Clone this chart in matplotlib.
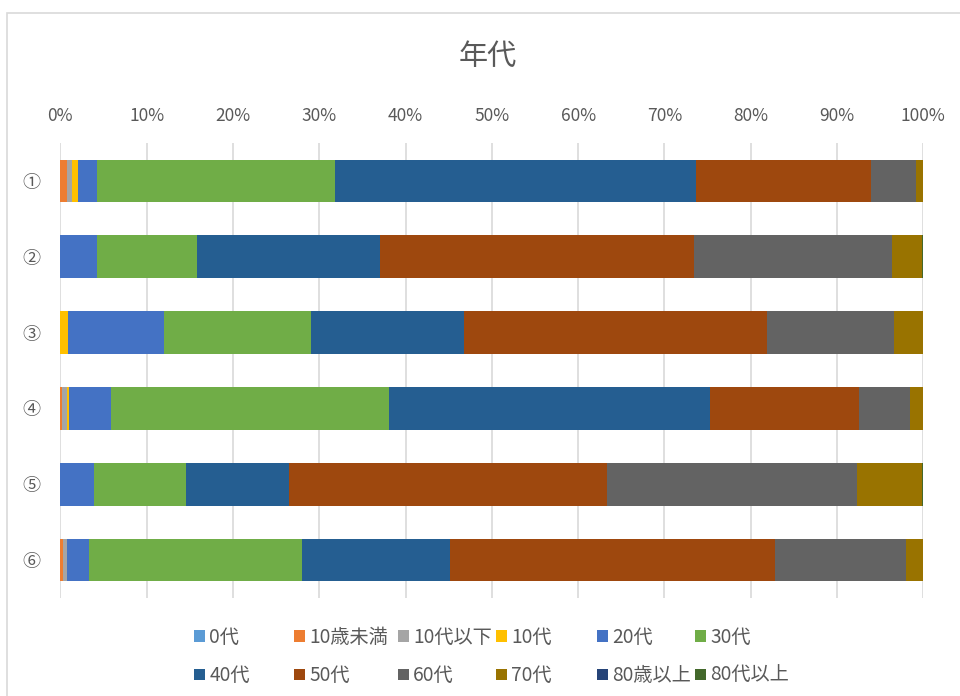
import matplotlib
matplotlib.use("Agg")
import matplotlib.pyplot as plt
from matplotlib.patches import Rectangle, Patch
import numpy as np

plt.rcParams['font.family'] = ['Noto Sans CJK JP', 'DejaVu Sans']

# series (legend order)
series = ['0代', '10歳未満', '10代以下', '10代', '20代', '30代',
          '40代', '50代', '60代', '70代', '80歳以上', '80代以上']
colors = ['#5B9BD5', '#ED7D31', '#A5A5A5', '#FFC000', '#4472C4', '#70AD47',
          '#255E91', '#9E480E', '#636363', '#997300', '#264478', '#43682B']

categories = ['①', '②', '③', '④', '⑤', '⑥']

# shares (%), one list per category, in series order
row1 = [0, 0.8, 0.6, 0.7, 2.1, 27.6, 41.9, 20.2, 5.3, 0.8, 0, 0]
row2 = [0, 0, 0, 0, 4.2, 11.6, 21.3, 36.3, 23.0, 3.5, 0, 0.1]
row3 = [0, 0, 0, 0.9, 11.1, 17.0, 17.8, 35.1, 14.7, 3.4, 0, 0]
row4 = [0, 0.2, 0.6, 0.2, 4.9, 32.2, 37.2, 17.2, 6.0, 1.5, 0, 0]
row5 = [0, 0, 0, 0, 3.9, 10.7, 11.9, 36.8, 29.0, 7.5, 0, 0.2]
row6 = [0, 0.3, 0.5, 0, 2.5, 24.7, 17.1, 37.7, 15.2, 2.0, 0, 0]

vals = np.array([row1, row2, row3, row4, row5, row6], dtype=float)
vals = vals / vals.sum(axis=1, keepdims=True)   # 100% stacked

txt = '#595959'
W, H = 960, 696
fig = plt.figure(figsize=(W / 100, H / 100), dpi=100)

# chart area border
fig.patches.append(Rectangle((7 / W, -0.1), 1.2, 1 - 13 / H + 0.1,
                             transform=fig.transFigure, fill=False,
                             edgecolor='#d9d9d9', linewidth=1.2))

ax = fig.add_axes([60.3 / W, 1 - 598 / H, (923.3 - 60.3) / W, (598 - 143) / H])

y = np.arange(len(categories))
left = np.zeros(len(categories))
handles = []
for j, name in enumerate(series):
    ax.barh(y, vals[:, j], left=left, height=0.563, color=colors[j],
            linewidth=0, zorder=3)
    left += vals[:, j]
    handles.append(Patch(facecolor=colors[j], edgecolor='none', label=name))

ax.set_xlim(0, 1)
ax.set_ylim(5.5, -0.5)
ax.set_xticks(np.linspace(0, 1, 11))
ax.set_xticklabels([f'{int(round(t * 100))}%' for t in np.linspace(0, 1, 11)])
ax.set_yticks(y)
ax.set_yticklabels(categories)
ax.xaxis.tick_top()
ax.tick_params(axis='x', length=0, pad=13, labelsize=12.5, colors=txt)
ax.tick_params(axis='y', length=0, pad=14, labelsize=13, colors=txt)
ax.grid(axis='x', color='#d9d9d9', linewidth=1.2, zorder=0)
for s in ax.spines.values():
    s.set_visible(False)

fig.text(488 / W, 1 - 57 / H, '年代', ha='center', va='center',
         fontsize=21, color=txt)

# legend: six columns of two entries, evenly spaced like the original
col_x = [194, 294, 398, 496, 597, 695]
for i, cx in enumerate(col_x):
    fig.legend(handles=[handles[i], handles[i + 6]], loc='upper left',
               bbox_to_anchor=(cx / W, 1 - 627 / H), frameon=False,
               fontsize=13.8, labelcolor=txt, handlelength=0.55,
               handleheight=0.55, handletextpad=0.25, labelspacing=0.9,
               borderpad=0, borderaxespad=0)

fig.savefig('out.png', dpi=100)
